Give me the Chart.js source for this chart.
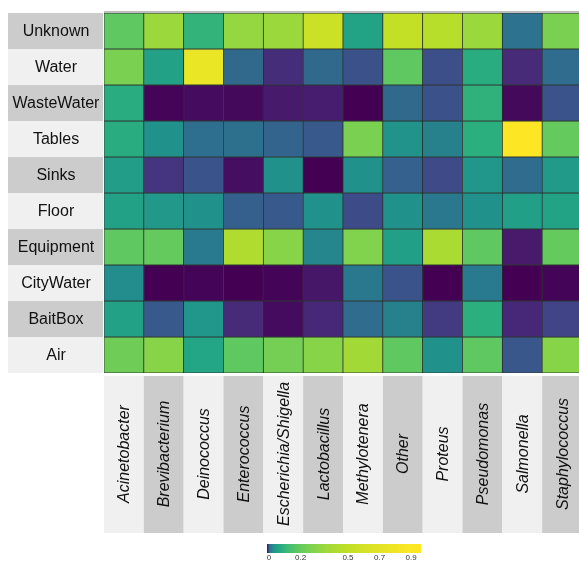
<!DOCTYPE html>
<html>
<head>
<meta charset="utf-8">
<script src="https://cdn.jsdelivr.net/npm/chart.js@4"></script>
<style>
  html, body { margin: 0; padding: 0; background: #fff; overflow: hidden; }
  canvas { display: block; }
</style>
</head>
<body>
<canvas id="heat" width="582" height="562"></canvas>
<script>
// sample sources (rows) and genera (columns)
const sources = ["Unknown", "Water", "WasteWater", "Tables", "Sinks", "Floor", "Equipment", "CityWater", "BaitBox", "Air"]
const genera = ["Acinetobacter", "Brevibacterium", "Deinococcus", "Enterococcus", "Escherichia/Shigella", "Lactobacillus",
  "Methylotenera", "Other", "Proteus", "Pseudomonas", "Salmonella", "Staphylococcus"]

// relative abundance per source, one value per genus
const unknown = [0.194, 0.358, 0.104, 0.337, 0.358, 0.551, 0.067, 0.518, 0.458, 0.358, 0.018, 0.264]
const water = [0.264, 0.063, 0.749, 0.014, 0.0024, 0.014, 0.0072, 0.194, 0.0067, 0.086, 0.0022, 0.015]
const wasteWater = [0.086, 0.0001, 0.0004, 0.0003, 0.0011, 0.0013, 0, 0.014, 0.0072, 0.098, 0.0003, 0.0078]
const tables = [0.086, 0.041, 0.016, 0.017, 0.012, 0.009, 0.264, 0.043, 0.027, 0.092, 0.9, 0.206]
const sinks = [0.056, 0.003, 0.0078, 0.0005, 0.041, 0, 0.041, 0.011, 0.0057, 0.046, 0.015, 0.052]
const floor = [0.063, 0.049, 0.041, 0.0105, 0.009, 0.041, 0.0062, 0.041, 0.021, 0.041, 0.059, 0.067]
const equipment = [0.194, 0.206, 0.0225, 0.431, 0.298, 0.031, 0.28, 0.059, 0.405, 0.194, 0.0011, 0.206]
const cityWater = [0.036, 0, 0.0001, 0, 0.0001, 0.0009, 0.021, 0.0078, 0, 0.0225, 0, 0.0001]
const baitBox = [0.063, 0.009, 0.046, 0.0022, 0.0004, 0.0019, 0.015, 0.027, 0.0037, 0.092, 0.0019, 0.0048]
const air = [0.233, 0.298, 0.072, 0.194, 0.248, 0.298, 0.381, 0.194, 0.041, 0.194, 0.0084, 0.298]

const rowValues = [unknown, water, wasteWater, tables, sinks, floor, equipment, cityWater, baitBox, air]
const cbarTicks = [0, 0.2, 0.5, 0.7, 0.9]

const FONT = "'Liberation Sans', Arial, sans-serif"
const viridis = ["#440154", "#482475", "#414487", "#355f8d", "#2a788e", "#21918c",
  "#22a884", "#44bf70", "#7ad151", "#bddf26", "#fde725"]

function hexToRgb(h) {
  return [parseInt(h.slice(1, 3), 16), parseInt(h.slice(3, 5), 16), parseInt(h.slice(5, 7), 16)]
}

function viridisAt(t) {
  t = Math.max(0, Math.min(1, t))
  let p = t * (viridis.length - 1)
  let i = Math.min(Math.floor(p), viridis.length - 2)
  let f = p - i
  let a = hexToRgb(viridis[i]), b = hexToRgb(viridis[i + 1])
  let c = a.map((v, k) => Math.round(v + (b[k] - v) * f))
  return `rgb(${c[0]}, ${c[1]}, ${c[2]})`
}

// log-stretched colour scale, saturates at 0.9
function colorFor(v) {
  let t = Math.log(1 + v / 0.002) / Math.log(1 + 0.9 / 0.002)
  return viridisAt(t)
}

let datasets = []
for (let i = 0; i < sources.length; i++) {
  datasets.push({
    label: sources[i],
    data: rowValues[i].map(() => [i, i + 1]),
    backgroundColor: rowValues[i].map(colorFor),
    borderColor: "rgba(15, 25, 20, 0.85)",
    borderWidth: 0.75,
    borderSkipped: false,
    barPercentage: 1,
    categoryPercentage: 1,
    grouped: false,
  })
}

const frame = {
  id: "frame",
  beforeDraw(chart) {
    const ctx = chart.ctx
    const x = chart.scales.x, y = chart.scales.y
    ctx.save()
    ctx.textAlign = "center"
    ctx.textBaseline = "middle"

    // row label bands
    ctx.font = "16px " + FONT
    for (let i = 0; i < sources.length; i++) {
      let top = y.getPixelForValue(i), bottom = y.getPixelForValue(i + 1)
      ctx.fillStyle = i % 2 == 0 ? "#cccccc" : "#f0f0f0"
      ctx.fillRect(8, top, x.left - 9, bottom - top)
      ctx.fillStyle = "#111"
      ctx.fillText(sources[i], 56, (top + bottom) / 2 + 1)
    }

    // column label bands, text turned upright
    let half = (x.getPixelForValue(1) - x.getPixelForValue(0)) / 2
    ctx.font = "italic 16px " + FONT
    for (let j = 0; j < genera.length; j++) {
      let cx = x.getPixelForValue(j)
      ctx.fillStyle = j % 2 == 0 ? "#f0f0f0" : "#cccccc"
      ctx.fillRect(cx - half, y.bottom + 3, half * 2, 157)
      ctx.save()
      ctx.translate(cx + 1, y.bottom + 81)
      ctx.rotate(-Math.PI / 2)
      ctx.fillStyle = "#111"
      ctx.fillText(genera[j], 0, 0)
      ctx.restore()
    }

    ctx.fillStyle = "#bdbdbd"
    ctx.fillRect(x.left, y.top - 2, x.right - x.left, 2)
    ctx.restore()
  },
  afterDraw(chart) {
    const ctx = chart.ctx
    const left = 267, width = 154, top = 544, height = 9, vmax = 0.95
    ctx.save()
    let grad = ctx.createLinearGradient(left, 0, left + width, 0)
    for (let k = 0; k <= 80; k++) {
      grad.addColorStop(k / 80, colorFor(k / 80 * vmax))
    }
    ctx.fillStyle = grad
    ctx.fillRect(left, top, width, height)
    ctx.font = "8px " + FONT
    ctx.fillStyle = "#333"
    ctx.textAlign = "center"
    ctx.textBaseline = "middle"
    cbarTicks.forEach(t => {
      ctx.fillText(String(t), left + 2 + t / vmax * (width - 4), top + height + 5)
    })
    ctx.restore()
  }
}

new Chart(document.getElementById("heat"), {
  type: "bar",
  data: { labels: genera, datasets: datasets },
  options: {
    responsive: false,
    devicePixelRatio: 1,
    animation: false,
    layout: { padding: { left: 104, right: 0, top: 13, bottom: 189 } },
    plugins: { legend: { display: false }, tooltip: { enabled: false } },
    scales: {
      x: { type: "category", offset: true, display: false },
      y: { type: "linear", min: 0, max: 10, reverse: true, display: false },
    },
  },
  plugins: [frame],
})
</script>
</body>
</html>
